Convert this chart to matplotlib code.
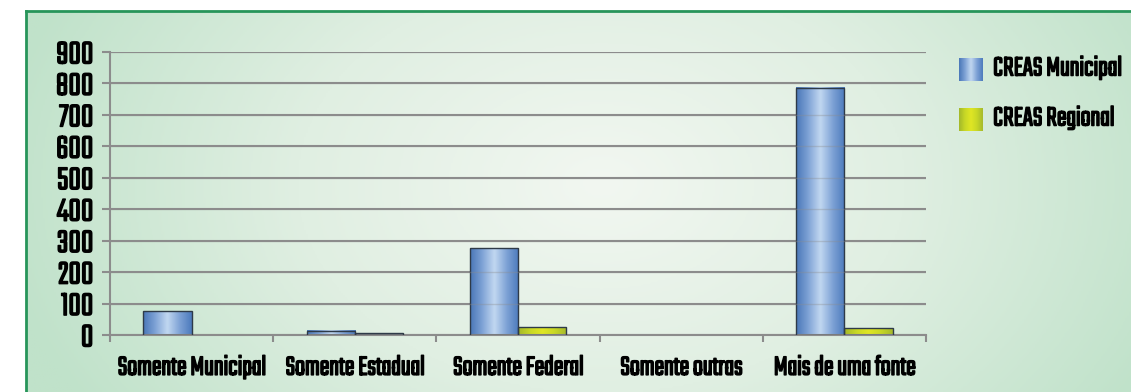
import numpy as np
import matplotlib
matplotlib.use("Agg")
import matplotlib.pyplot as plt
import matplotlib.patheffects as pe
from matplotlib.colors import LinearSegmentedColormap
from matplotlib import font_manager

# ── data ──────────────────────────────────────────────────────────────
categories = ["Somente Municipal", "Somente Estadual", "Somente Federal",
              "Somente outras", "Mais de uma fonte"]
creas_municipal = [75, 14, 276, 0, 787]
creas_regional = [0, 5, 24, 0, 22]
series_names = ["CREAS Municipal", "CREAS Regional"]
y_ticks = [0, 100, 200, 300, 400, 500, 600, 700, 800, 900]

# ── fonts ─────────────────────────────────────────────────────────────
names = {f.name for f in font_manager.fontManager.ttflist}
FONT = next((f for f in ["Teko", "Sofia Sans Extra Condensed", "Barlow Condensed"] if f in names),
            "DejaVu Sans")
plt.rcParams["font.family"] = [FONT, "DejaVu Sans"]
plt.rcParams["font.weight"] = "bold"
heavy = [pe.withStroke(linewidth=1.1, foreground="black")]

W, H = 1131, 392
fig = plt.figure(figsize=(W / 100, H / 100), dpi=100)
fig.patch.set_facecolor("white")

# background panel with soft radial light in the middle
bg = fig.add_axes([26 / W, 0, 1 - 26 / W, 1 - 11 / H])
yy, xx = np.mgrid[0:200, 0:600]
cx, cy = 0.52, 0.45
r = np.sqrt(((xx / 600 - cx) / 0.55) ** 2 + ((yy / 200 - cy) / 1.1) ** 2)
r = np.clip(r, 0, 1)
bg_cmap = LinearSegmentedColormap.from_list("bg", ["#f2f7f1", "#e0efe2", "#c0e2ca"])
bg.imshow(r, cmap=bg_cmap, aspect="auto", extent=[0, 1, 0, 1], vmin=0, vmax=1)
bg.set_xlim(0, 1)
bg.set_ylim(0, 1)
bg.set_xticks([])
bg.set_yticks([])
for side in ("right", "bottom"):
    bg.spines[side].set_visible(False)
for side in ("left", "top"):
    bg.spines[side].set_color("#27955a")
    bg.spines[side].set_linewidth(2)

# ── main axes ─────────────────────────────────────────────────────────
ax = fig.add_axes([110 / W, (H - 335) / H, 816 / W, 283 / H])
ax.patch.set_alpha(0)

blue_cmap = LinearSegmentedColormap.from_list(
    "blue", ["#4a77b8", "#7fa3d6", "#c2d8f1", "#7fa3d6", "#4d7bbd"])
green_cmap = LinearSegmentedColormap.from_list(
    "green", ["#a4b82a", "#c8d826", "#e0e624", "#c8d826", "#a6ba2c"])
grad = np.linspace(0, 1, 64).reshape(1, -1)

x = np.arange(len(categories))
bw = 0.295


def shaded_bars(xs, vals, cmap):
    for xc, v in zip(xs, vals):
        if v <= 0:
            continue
        ax.imshow(grad, cmap=cmap, aspect="auto", extent=[xc - bw / 2, xc + bw / 2, 0, v],
                  zorder=2, interpolation="bicubic")
        ax.bar(xc, v, width=bw, facecolor="none", edgecolor="#2e3a48", linewidth=1.0, zorder=3)


shaded_bars(x - bw / 2, creas_municipal, blue_cmap)
shaded_bars(x + bw / 2, creas_regional, green_cmap)

# faint grid lines show through the bars
for t in y_ticks[1:]:
    ax.axhline(t, color="#8c8c8c", linewidth=1.0, alpha=0.35, zorder=4)

ax.set_xlim(-0.5, len(categories) - 0.5)
ax.set_ylim(0, 900)
ax.set_yticks(y_ticks)
ax.set_yticklabels([str(t) for t in y_ticks], fontsize=25, fontweight="bold")
ax.set_xticks(x)
ax.set_xticklabels(categories, fontsize=21, fontweight="bold")
ax.set_xticks(np.arange(len(categories) + 1) - 0.5, minor=True)
ax.tick_params(axis="x", which="major", length=0, pad=15)
ax.tick_params(axis="x", which="minor", length=5, width=1.5, color="#8c8c8c")
ax.tick_params(axis="y", length=6, width=1.5, color="#8c8c8c", pad=6)
for lab in ax.get_xticklabels() + ax.get_yticklabels():
    lab.set_path_effects(heavy)
ax.yaxis.grid(True, color="#8c8c8c", linewidth=1.5, zorder=1)
ax.set_axisbelow(True)
for side in ("top", "right"):
    ax.spines[side].set_visible(False)
for side in ("left", "bottom"):
    ax.spines[side].set_color("#8c8c8c")
    ax.spines[side].set_linewidth(1.5)

# ── legend ────────────────────────────────────────────────────────────
for i, (name, cmap) in enumerate(zip(series_names, [blue_cmap, green_cmap])):
    top = 58 + i * 50
    lax = fig.add_axes([959 / W, (H - top - 23) / H, 23 / W, 23 / H])
    lax.imshow(grad, cmap=cmap, aspect="auto", interpolation="bicubic")
    lax.axis("off")
    fig.text(993 / W, (H - top - 10) / H, name, fontsize=21, fontweight="bold",
             va="center", ha="left", path_effects=heavy)

fig.savefig("out.png", dpi=100)
